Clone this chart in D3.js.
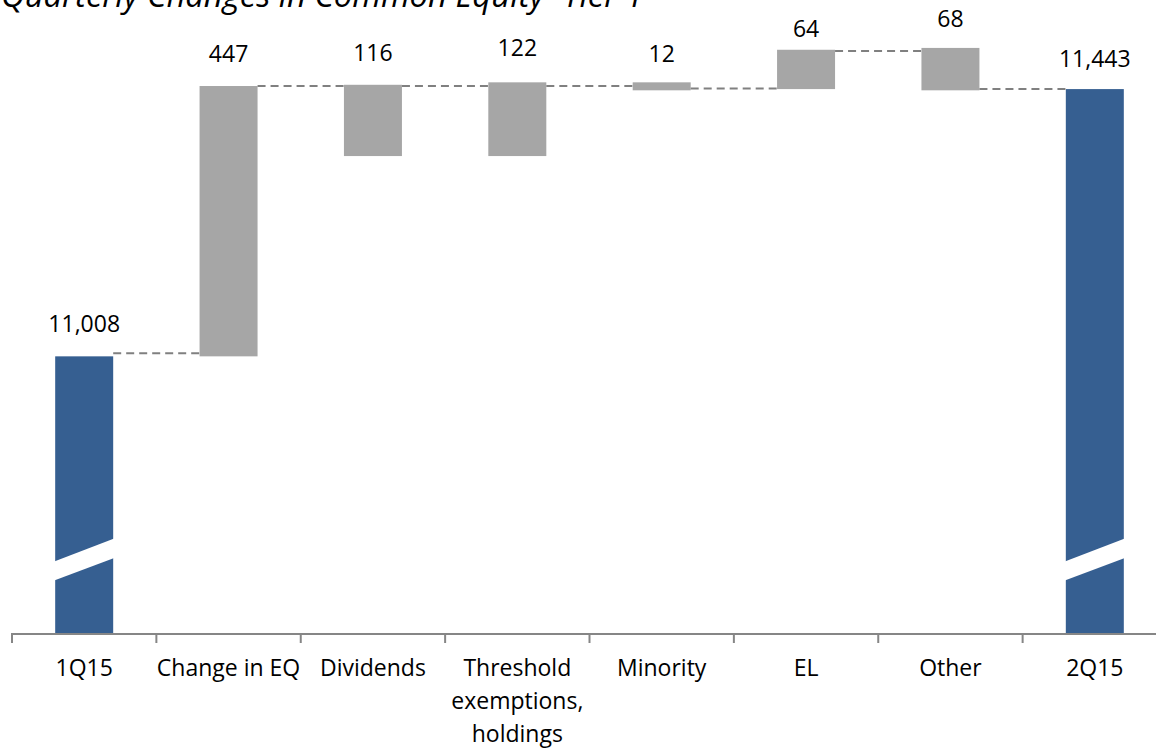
<!DOCTYPE html>
<html>
<head>
<meta charset="utf-8">
<script src="https://cdn.jsdelivr.net/npm/d3@7/dist/d3.min.js"></script>
<style>
  html, body { margin: 0; padding: 0; background: #fff; }
  svg { display: block; }
  text { font-family: "Open Sans", "Noto Sans", sans-serif; fill: #000; }
</style>
</head>
<body>
<svg id="chart" width="1156" height="749"></svg>
<script>
// ---- data ----
const title = "Quarterly Changes in Common Equity- Tier 1";
const categories = ["1Q15", "Change in EQ", "Dividends", "Threshold\nexemptions,\nholdings", "Minority", "EL", "Other", "2Q15"];
const labelValues = [11008, 447, 116, 122, 12, 64, 68, 11443];
// floating bar extents (value units) as drawn in the picture
const barLow  = [null, 11008, 11334, 11334, 11441, 11443, 11441, null];
const barHigh = [11008, 11448, 11450, 11454, 11454, 11507, 11510, 11443];
const isTotal = [true, false, false, false, false, false, false, true];
// dashed connector levels between consecutive bars
const connectorLevels = [11013, 11448, 11448, 11448, 11444, 11505, 11443];

// ---- layout / style ----
const W = 1156, H = 749;
const axisY = 633;
const svg = d3.select("#chart");

const x = d3.scaleBand().domain(d3.range(categories.length)).range([12, 1167]).padding(0);
const y = d3.scaleLinear().domain([10557.7, 11588]).range([axisY, 0]);
const barW = 58;
const bx = i => x(i) + x.bandwidth() / 2 - barW / 2;

const blue = "#365F91", grey = "#A6A6A6";

// bars
const bars = svg.append("g");
categories.forEach((c, i) => {
  const lo = isTotal[i] ? y.domain()[0] : barLow[i];
  const hi = barHigh[i];
  bars.append("rect")
    .attr("x", bx(i))
    .attr("y", y(hi))
    .attr("width", barW)
    .attr("height", y(lo) - y(hi))
    .attr("fill", isTotal[i] ? blue : grey);
  if (isTotal[i]) {
    // axis-break stripe
    const x0 = bx(i) - 1, x1 = bx(i) + barW + 1;
    const yl = 561, yr = 539, t = 19;
    bars.append("polygon")
      .attr("points", [[x0, yl + 0.4], [x1, yr - 0.4], [x1, yr + t], [x0, yl + t + 0.4]].map(p => p.join(",")).join(" "))
      .attr("fill", "#fff");
  }
});

// connectors
const conn = svg.append("g");
connectorLevels.forEach((lv, i) => {
  conn.append("line")
    .attr("x1", bx(i) + barW)
    .attr("x2", bx(i + 1))
    .attr("y1", y(lv)).attr("y2", y(lv))
    .attr("stroke", "#808080")
    .attr("stroke-width", 2)
    .attr("stroke-dasharray", "8,5");
});

// value labels
const fmt = d3.format(",");
const labelDy = [-1, -1, -1, -3, 3, 10, 2, 1];
svg.append("g").selectAll("text")
  .data(labelValues)
  .join("text")
  .attr("x", (d, i) => x(i) + x.bandwidth() / 2)
  .attr("y", (d, i) => y(barHigh[i]) - 23 + labelDy[i])
  .attr("text-anchor", "middle")
  .attr("font-size", 23)
  .text(d => fmt(d));

// axis
const axis = svg.append("g");
axis.append("line")
  .attr("x1", 12).attr("x2", W)
  .attr("y1", axisY + 1).attr("y2", axisY + 1)
  .attr("stroke", "#868686").attr("stroke-width", 2);
d3.range(categories.length + 1).forEach(i => {
  const tx = 12 + i * x.step();
  axis.append("line")
    .attr("x1", tx).attr("x2", tx)
    .attr("y1", axisY).attr("y2", axisY + 10)
    .attr("stroke", "#868686").attr("stroke-width", 2);
});
const catG = svg.append("g");
categories.forEach((c, i) => {
  const t = catG.append("text")
    .attr("x", x(i) + x.bandwidth() / 2)
    .attr("y", 676)
    .attr("text-anchor", "middle")
    .attr("font-size", 23);
  c.split("\n").forEach((ln, k) => {
    t.append("tspan")
      .attr("x", x(i) + x.bandwidth() / 2)
      .attr("dy", k === 0 ? 0 : 33)
      .text(ln);
  });
});

// title (partly cut off at top, as in the source)
const tt = svg.append("text")
  .attr("x", 1)
  .attr("y", 7)
  .attr("font-size", 30)
  .attr("font-style", "italic")
  .text(title);
const tw = tt.node().getComputedTextLength();
tt.attr("font-size", 30 * 643 / tw);
</script>
</body>
</html>
